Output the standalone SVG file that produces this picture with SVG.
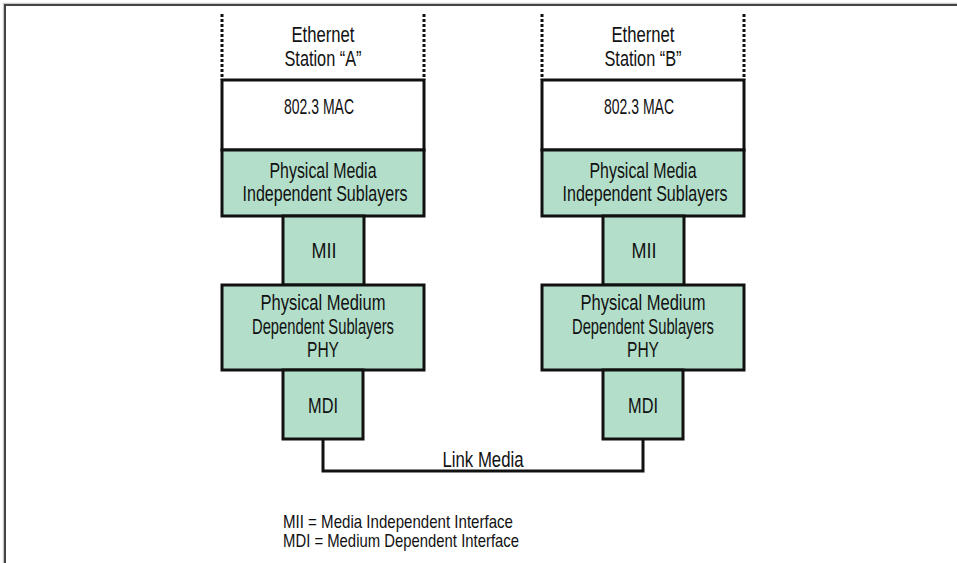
<svg xmlns="http://www.w3.org/2000/svg" width="957" height="563" viewBox="0 0 957 563">
<style>
text{font-family:"Liberation Sans",Arial,sans-serif;font-size:22px;fill:#111;text-anchor:middle}
.lg{font-size:19px;text-anchor:start}
.box{stroke:#111;stroke-width:3}
.g{fill:#b3dfca}
.w{fill:#fff}
.dot{stroke:#111;stroke-width:3;stroke-dasharray:3 2;fill:none}
.ln{stroke:#111;stroke-width:3;fill:none}
</style>
<rect width="957" height="563" fill="#fff"/>
<path d="M3.5,563 V3.5 H957" fill="none" stroke="#ccc" stroke-width="1.5"/>
<path d="M5,563 V5 H957" fill="none" stroke="#444" stroke-width="2"/>
<g id="connectors">
<path class="ln" d="M323,440 V471 H643 V440"/>
<text x="483" y="467" textLength="81" lengthAdjust="spacingAndGlyphs">Link Media</text>
</g>
<g id="stationA">
<line class="dot" x1="222" y1="14" x2="222" y2="80"/>
<line class="dot" x1="424" y1="14" x2="424" y2="80"/>
<text x="323" y="42" textLength="63" lengthAdjust="spacingAndGlyphs">Ethernet</text>
<text x="323" y="66" textLength="77" lengthAdjust="spacingAndGlyphs">Station “A”</text>
</g>
<g id="macA"><rect class="box w" x="222" y="80" width="202" height="70"/>
<text x="319" y="114" textLength="70" lengthAdjust="spacingAndGlyphs">802.3 MAC</text></g>
<g id="pmiA"><rect class="box g" x="222" y="150" width="202" height="66"/>
<text x="323" y="178" textLength="107" lengthAdjust="spacingAndGlyphs">Physical Media</text>
<text x="325" y="201" textLength="165" lengthAdjust="spacingAndGlyphs">Independent Sublayers</text></g>
<g id="miiA"><rect class="box g" x="283" y="216" width="81" height="69"/>
<text x="324" y="258" textLength="25" lengthAdjust="spacingAndGlyphs">MII</text></g>
<g id="pmdA"><rect class="box g" x="222" y="285" width="202" height="85"/>
<text x="323" y="310" textLength="125" lengthAdjust="spacingAndGlyphs">Physical Medium</text>
<text x="323" y="334" textLength="142" lengthAdjust="spacingAndGlyphs">Dependent Sublayers</text>
<text x="323" y="357" textLength="32" lengthAdjust="spacingAndGlyphs">PHY</text></g>
<g id="mdiA"><rect class="box g" x="283" y="370" width="80" height="69"/>
<text x="323" y="413" textLength="30" lengthAdjust="spacingAndGlyphs">MDI</text></g>
<g id="stationB">
<line class="dot" x1="542" y1="14" x2="542" y2="80"/>
<line class="dot" x1="744" y1="14" x2="744" y2="80"/>
<text x="643" y="42" textLength="63" lengthAdjust="spacingAndGlyphs">Ethernet</text>
<text x="643" y="66" textLength="77" lengthAdjust="spacingAndGlyphs">Station “B”</text>
</g>
<g id="macB"><rect class="box w" x="542" y="80" width="202" height="70"/>
<text x="639" y="114" textLength="70" lengthAdjust="spacingAndGlyphs">802.3 MAC</text></g>
<g id="pmiB"><rect class="box g" x="542" y="150" width="202" height="66"/>
<text x="643" y="178" textLength="107" lengthAdjust="spacingAndGlyphs">Physical Media</text>
<text x="645" y="201" textLength="165" lengthAdjust="spacingAndGlyphs">Independent Sublayers</text></g>
<g id="miiB"><rect class="box g" x="603" y="216" width="81" height="69"/>
<text x="644" y="258" textLength="25" lengthAdjust="spacingAndGlyphs">MII</text></g>
<g id="pmdB"><rect class="box g" x="542" y="285" width="202" height="85"/>
<text x="643" y="310" textLength="125" lengthAdjust="spacingAndGlyphs">Physical Medium</text>
<text x="643" y="334" textLength="142" lengthAdjust="spacingAndGlyphs">Dependent Sublayers</text>
<text x="643" y="357" textLength="32" lengthAdjust="spacingAndGlyphs">PHY</text></g>
<g id="mdiB"><rect class="box g" x="603" y="370" width="80" height="69"/>
<text x="643" y="413" textLength="30" lengthAdjust="spacingAndGlyphs">MDI</text></g>
<g id="legend">
<text class="lg" x="283" y="528" textLength="230" lengthAdjust="spacingAndGlyphs">MII = Media Independent Interface</text>
<text class="lg" x="283" y="547" textLength="236" lengthAdjust="spacingAndGlyphs">MDI = Medium Dependent Interface</text>
</g>
</svg>
